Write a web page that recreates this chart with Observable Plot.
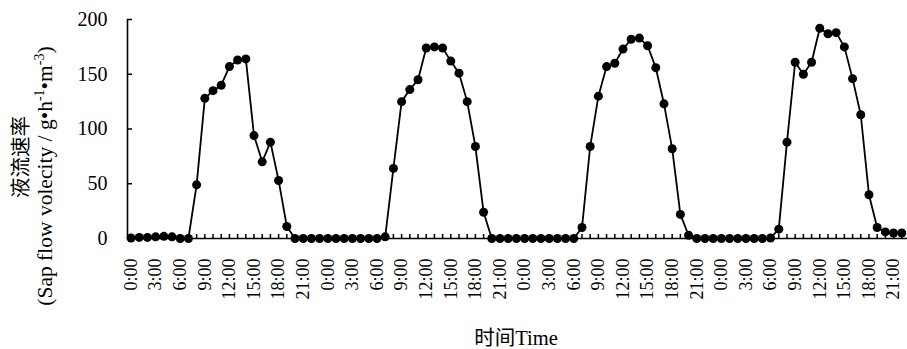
<!DOCTYPE html>
<html><head><meta charset="utf-8">
<script src="https://cdn.jsdelivr.net/npm/d3@7"></script>
<script src="https://cdn.jsdelivr.net/npm/@observablehq/plot@0.6"></script>
<style>
body{margin:0;background:#fff;}
#chart svg{display:block;}
</style></head><body><div id="chart"></div>
<script>
// Sap flow velocity, hourly readings over four days (hour 0 .. 94)
const values = [
  // day 1 (0:00 - 23:00)
  0.5, 1, 1, 1.5, 2, 1.5, 0, 0, 49, 128, 135, 140, 157, 163, 164, 94, 70, 88, 53, 11, 0, 0, 0, 0,
  // day 2
  0, 0, 0, 0, 0, 0, 0, 1.5, 64, 125, 136, 145, 174, 175, 174, 162, 151, 125, 84, 24, 0, 0, 0, 0,
  // day 3
  0, 0, 0, 0, 0, 0, 0, 10, 84, 130, 157, 160, 173, 182, 183, 176, 156, 123, 82, 22, 3, 0, 0, 0,
  // day 4 (to 22:00)
  0, 0, 0, 0, 0, 0, 0.5, 8.5, 88, 161, 150, 161, 192, 187, 188, 175, 146, 113, 40, 10, 6, 5, 5
];
const hourIndex = values.map((_, i) => i);
const tickHours = [0,3,6,9,12,15,18,21,24,27,30,33,36,39,42,45,48,51,54,57,60,63,66,69,72,75,78,81,84,87,90,93];
const tickLabels = ["0:00","3:00","6:00","9:00","12:00","15:00","18:00","21:00",
                    "0:00","3:00","6:00","9:00","12:00","15:00","18:00","21:00",
                    "0:00","3:00","6:00","9:00","12:00","15:00","18:00","21:00",
                    "0:00","3:00","6:00","9:00","12:00","15:00","18:00","21:00"];
const yTicks = [0, 50, 100, 150, 200];
const xDomain = [-0.43, 94.7];
const yDomain = [0, 200];

const data = values.map((v, i) => ({hour: hourIndex[i], value: v}));
const serif = '"Liberation Serif","Times New Roman","Noto Sans CJK SC",serif';

const plot = Plot.plot({
  width: 907, height: 349,
  marginLeft: 127, marginRight: 0, marginTop: 19, marginBottom: 111,
  style: {fontFamily: serif, fontSize: "18px", color: "#000", background: "#fff", overflow: "visible"},
  x: {domain: xDomain},
  y: {domain: yDomain},
  marks: [
    Plot.axisY({ticks: yTicks, tickSize: 5, dx: 5, fill: "none", strokeWidth: 1.5, label: null}),
    Plot.axisY({ticks: yTicks, tickSize: 0, tickPadding: 20, stroke: "none", fontSize: 20, label: null}),
    Plot.axisX({ticks: hourIndex, tickSize: 4, dy: -4, fill: "none", strokeWidth: 1.5, label: null}),
    Plot.axisX({ticks: tickHours, tickSize: 0, tickPadding: 20, tickRotate: -90, stroke: "none",
      fontSize: 18, label: null, tickFormat: h => tickLabels[tickHours.indexOf(h)]}),
    Plot.ruleY([0], {strokeWidth: 1.6}),
    Plot.ruleX([xDomain[0]], {strokeWidth: 1.6}),
    Plot.line(data, {x: "hour", y: "value", strokeWidth: 1.8, stroke: "#000"}),
    Plot.dot(data, {x: "hour", y: "value", r: 4.5, fill: "#000", stroke: "none"})
  ]
});

const svg = d3.select(plot);
// Y axis title (two lines)
svg.append("text")
  .attr("transform", "translate(28,157) rotate(-90)")
  .attr("text-anchor", "middle")
  .style("font-family", serif).style("font-size", "20.5px").attr("fill", "#000")
  .text("液流速率");
const t2 = svg.append("text")
  .attr("transform", "translate(52,176) rotate(-90)")
  .attr("text-anchor", "middle")
  .style("font-family", serif).style("font-size", "21.5px").attr("fill", "#000");
t2.append("tspan").text("(Sap flow volecity / g•h");
t2.append("tspan").attr("dy", -8).style("font-size", "14px").text("-1");
t2.append("tspan").attr("dy", 8).text("•m");
t2.append("tspan").attr("dy", -8).style("font-size", "14px").text("-3");
t2.append("tspan").attr("dy", 8).text(")");
// X axis title
svg.append("text")
  .attr("x", 516).attr("y", 345)
  .attr("text-anchor", "middle")
  .style("font-family", serif).style("font-size", "20.5px").attr("fill", "#000")
  .text("时间Time");

document.getElementById("chart").appendChild(plot);
</script></body></html>
